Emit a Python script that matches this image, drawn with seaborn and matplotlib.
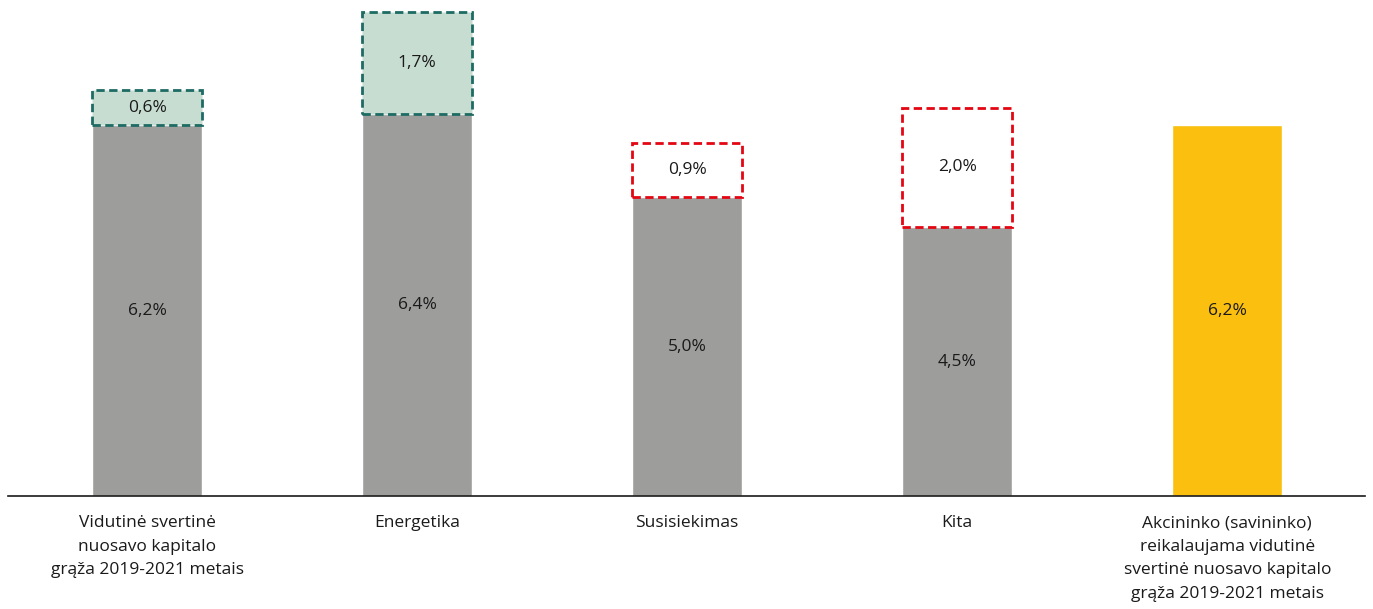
import matplotlib
matplotlib.use("Agg")
from matplotlib import pyplot as plt
import pandas as pd
import seaborn as sns

categories = [
    "Vidutinė svertinė\nnuosavo kapitalo\ngrąža 2019-2021 metais",
    "Energetika",
    "Susisiekimas",
    "Kita",
    "Akcininko (savininko)\nreikalaujama vidutinė\nsvertinė nuosavo kapitalo\ngrąža 2019-2021 metais",
]
base_values = [6.2, 6.4, 5.0, 4.5, 6.2]
top_values = [0.6, 1.7, 0.9, 2.0, None]
top_kind = ["up", "up", "down", "down", None]

GRAY = "#9d9d9c"
YELLOW = "#fbbf10"
GREEN_FILL = "#c7ddd1"
GREEN_EDGE = "#1d6b63"
RED_EDGE = "#e30613"

sns.set_style("white")
plt.rcParams["font.family"] = ["Open Sans", "DejaVu Sans"]

df = pd.DataFrame({"category": categories, "value": base_values})

fig = plt.figure(figsize=(13.73, 6.09), dpi=100)
ax = fig.add_axes([8 / 1373, 113 / 609, 1357 / 1373, 496 / 609])

sns.barplot(
    data=df, x="category", y="value", hue="category",
    palette=[GRAY, GRAY, GRAY, GRAY, YELLOW], width=0.407,
    legend=False, ax=ax, saturation=1,
)

for i, (base, top, kind) in enumerate(zip(base_values, top_values, top_kind)):
    ax.text(i, base / 2, f"{base:.1f}%".replace(".", ","), ha="center",
            va="center", fontsize=12.5, color="#1a1a1a")
    if top is None:
        continue
    if kind == "up":
        fc, ec = GREEN_FILL, GREEN_EDGE
    else:
        fc, ec = "white", RED_EDGE
    ax.bar(i, top, bottom=base, width=0.407, facecolor=fc, edgecolor=ec,
           linewidth=2, linestyle=(0, (3, 1.6)), zorder=3)
    ax.text(i, base + top / 2, f"{top:.1f}%".replace(".", ","), ha="center",
            va="center", fontsize=12.5, color="#1a1a1a", zorder=4)

ax.set_xlim(-0.515, 4.51)
ax.set_ylim(0, 8.3)
ax.set_yticks([])
ax.set_xlabel("")
ax.set_ylabel("")
sns.despine(ax=ax, left=True, top=True, right=True)
ax.spines["bottom"].set_color("#1a1a1a")
ax.spines["bottom"].set_linewidth(1.2)
ax.tick_params(axis="x", length=0, pad=14)
for lbl in ax.get_xticklabels():
    lbl.set_fontsize(12.5)
    lbl.set_linespacing(1.62)
    lbl.set_va("top")
    lbl.set_color("#1a1a1a")

fig.savefig("out.png", dpi=100)
